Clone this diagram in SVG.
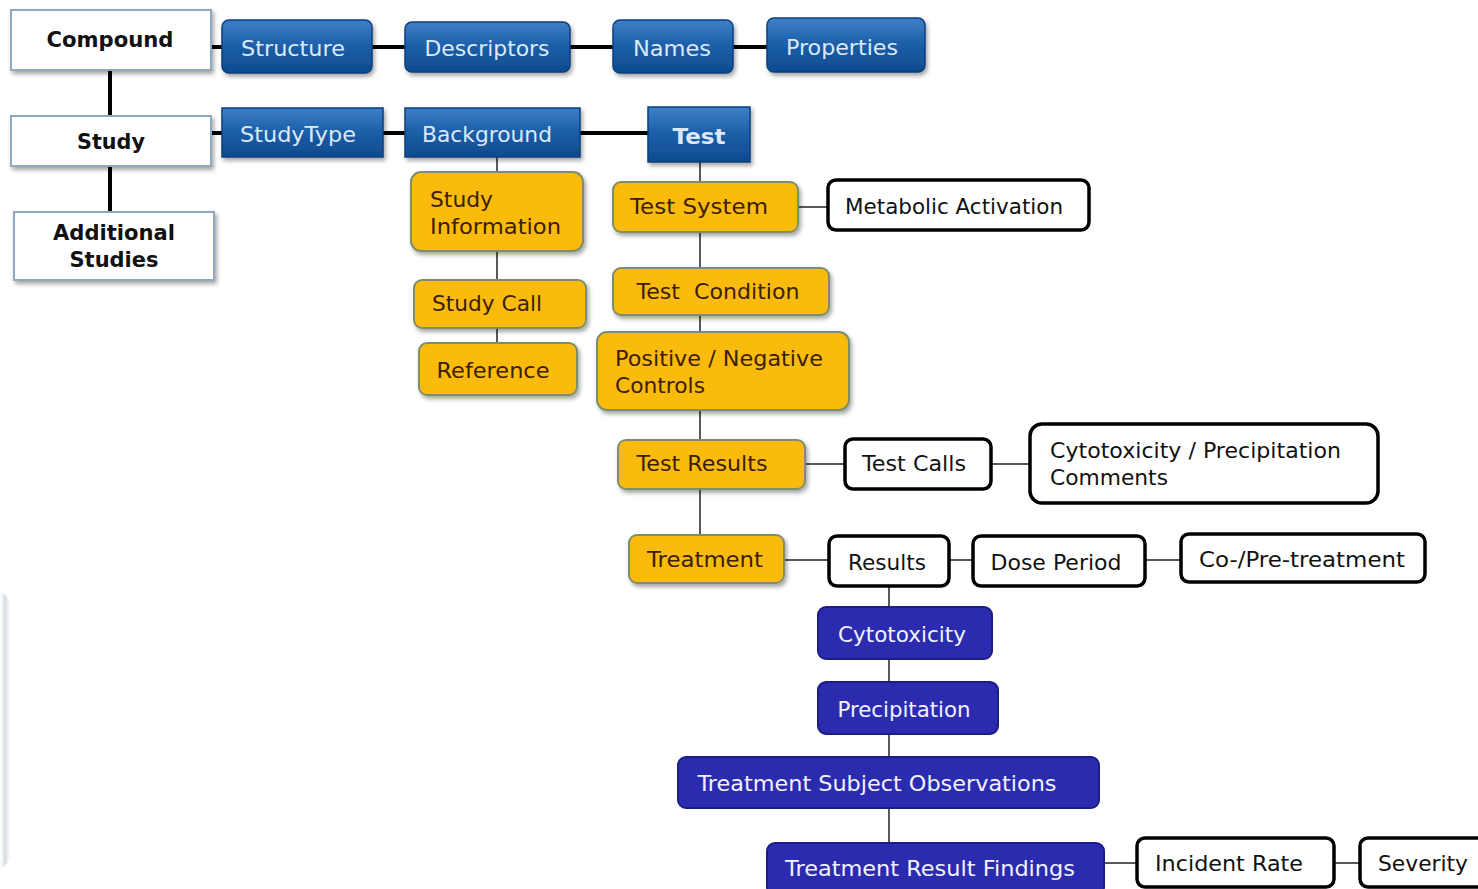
<svg xmlns="http://www.w3.org/2000/svg" width="1478" height="889" viewBox="0 0 1478 889">
<defs>
<linearGradient id="gBlue" x1="0" y1="0" x2="0" y2="1">
<stop offset="0" stop-color="#3d80c8"/>
<stop offset="0.5" stop-color="#1b5ea8"/>
<stop offset="1" stop-color="#0e4b8f"/>
</linearGradient>
<linearGradient id="gEdge" x1="0" y1="0" x2="1" y2="0">
<stop offset="0" stop-color="#e9edf3" stop-opacity="0"/>
<stop offset="0.5" stop-color="#c9d0dc"/>
<stop offset="1" stop-color="#e9edf3" stop-opacity="0.3"/>
</linearGradient>
<filter id="sh" x="-10%" y="-20%" width="130%" height="150%">
<feDropShadow dx="2" dy="3" stdDeviation="2" flood-color="#000" flood-opacity="0.35"/>
</filter>
</defs>
<style>
text{font-family:"DejaVu Sans","Verdana",sans-serif;font-size:21px;text-anchor:middle}
.w{fill:#fff;stroke:#8fa9c4;stroke-width:2}
.wt{fill:#111;font-weight:bold}
.b{fill:url(#gBlue);stroke:#0c3f7a;stroke-width:1.5}
.bt{fill:#dce9f8}
.y{fill:#fbbb0c;stroke:#7d8e6c;stroke-width:2}
.yt{fill:#3b2000}
.k{fill:#fff;stroke:#000;stroke-width:3.5}
.kt{fill:#111}
.p{fill:#2b2bb0;stroke:#1c1c86;stroke-width:2}
.pt{fill:#f2f2ff}
.l{text-anchor:start}
.thick{stroke:#000;stroke-width:4;fill:none}
.thin{stroke:#222;stroke-width:1.5;fill:none}
</style>
<rect width="1478" height="889" fill="#fff"/>
<path d="M0 590 L10 600 L10 860 L0 870 Z" fill="url(#gEdge)" opacity="0.8"/>

<g id="connectors">
<line class="thick" x1="110" y1="70" x2="110" y2="116"/>
<line class="thick" x1="110" y1="166" x2="110" y2="212"/>
<line class="thick" x1="211" y1="47" x2="222" y2="47"/>
<line class="thick" x1="372" y1="47" x2="405" y2="47"/>
<line class="thick" x1="570" y1="47" x2="613" y2="47"/>
<line class="thick" x1="733" y1="47" x2="767" y2="47"/>
<line class="thick" x1="211" y1="133" x2="222" y2="133"/>
<line class="thick" x1="383" y1="133" x2="405" y2="133"/>
<line class="thick" x1="580" y1="133" x2="648" y2="133"/>
<line class="thin" x1="497" y1="157" x2="497" y2="172"/>
<line class="thin" x1="497" y1="251" x2="497" y2="280"/>
<line class="thin" x1="497" y1="328" x2="497" y2="343"/>
<line class="thin" x1="700" y1="162" x2="700" y2="182"/>
<line class="thin" x1="700" y1="232" x2="700" y2="268"/>
<line class="thin" x1="700" y1="315" x2="700" y2="332"/>
<line class="thin" x1="700" y1="410" x2="700" y2="440"/>
<line class="thin" x1="700" y1="489" x2="700" y2="535"/>
<line class="thin" x1="798" y1="207" x2="828" y2="207"/>
<line class="thin" x1="805" y1="464" x2="845" y2="464"/>
<line class="thin" x1="991" y1="464" x2="1030" y2="464"/>
<line class="thin" x1="784" y1="560" x2="829" y2="560"/>
<line class="thin" x1="949" y1="560" x2="973" y2="560"/>
<line class="thin" x1="1145" y1="560" x2="1181" y2="560"/>
<line class="thin" x1="889" y1="586" x2="889" y2="608"/>
<line class="thin" x1="889" y1="659" x2="889" y2="683"/>
<line class="thin" x1="889" y1="734" x2="889" y2="757"/>
<line class="thin" x1="889" y1="808" x2="889" y2="843"/>
<line class="thin" x1="1104" y1="863" x2="1137" y2="863"/>
<line class="thin" x1="1334" y1="863" x2="1360" y2="863"/>
</g>

<g id="compound"><rect class="w" x="11" y="10" width="200" height="60" filter="url(#sh)"/><text class="wt" x="110" y="47" textLength="127" lengthAdjust="spacingAndGlyphs">Compound</text></g>
<g id="study"><rect class="w" x="11" y="116" width="200" height="50" filter="url(#sh)"/><text class="wt" x="111" y="149" textLength="68" lengthAdjust="spacingAndGlyphs">Study</text></g>
<g id="additional"><rect class="w" x="14" y="212" width="200" height="68" filter="url(#sh)"/><text class="wt" x="114" y="240" textLength="122" lengthAdjust="spacingAndGlyphs">Additional</text><text class="wt" x="114" y="267" textLength="89" lengthAdjust="spacingAndGlyphs">Studies</text></g>

<g id="structure"><rect class="b" x="222" y="20" width="150" height="53" rx="7" filter="url(#sh)"/><text class="bt" x="293" y="56" textLength="104" lengthAdjust="spacingAndGlyphs">Structure</text></g>
<g id="descriptors"><rect class="b" x="405" y="22" width="165" height="50" rx="7" filter="url(#sh)"/><text class="bt" x="487" y="56" textLength="125" lengthAdjust="spacingAndGlyphs">Descriptors</text></g>
<g id="names"><rect class="b" x="613" y="20" width="120" height="53" rx="7" filter="url(#sh)"/><text class="bt" x="672" y="56" textLength="78" lengthAdjust="spacingAndGlyphs">Names</text></g>
<g id="properties"><rect class="b" x="767" y="18" width="158" height="54" rx="7" filter="url(#sh)"/><text class="bt" x="842" y="55" textLength="112" lengthAdjust="spacingAndGlyphs">Properties</text></g>

<g id="studytype"><rect class="b" x="222" y="108" width="161" height="49" filter="url(#sh)"/><text class="bt" x="298" y="142" textLength="116" lengthAdjust="spacingAndGlyphs">StudyType</text></g>
<g id="background"><rect class="b" x="405" y="108" width="175" height="49" filter="url(#sh)"/><text class="bt" x="487" y="142" textLength="130" lengthAdjust="spacingAndGlyphs">Background</text></g>
<g id="test"><rect class="b" x="648" y="107" width="102" height="55" filter="url(#sh)"/><text class="bt" x="699" y="144" font-weight="bold" textLength="53" lengthAdjust="spacingAndGlyphs">Test</text></g>

<g id="study-information"><rect class="y" x="411" y="172" width="172" height="79" rx="10" filter="url(#sh)"/><text class="yt l" x="430" y="207" textLength="63" lengthAdjust="spacingAndGlyphs">Study</text><text class="yt l" x="430" y="234" textLength="131" lengthAdjust="spacingAndGlyphs">Information</text></g>
<g id="study-call"><rect class="y" x="414" y="280" width="172" height="48" rx="8" filter="url(#sh)"/><text class="yt" x="487" y="311" textLength="110" lengthAdjust="spacingAndGlyphs">Study Call</text></g>
<g id="reference"><rect class="y" x="419" y="343" width="158" height="52" rx="8" filter="url(#sh)"/><text class="yt" x="493" y="378" textLength="113" lengthAdjust="spacingAndGlyphs">Reference</text></g>

<g id="test-system"><rect class="y" x="613" y="182" width="185" height="50" rx="8" filter="url(#sh)"/><text class="yt" x="699" y="214" textLength="138" lengthAdjust="spacingAndGlyphs">Test System</text></g>
<g id="metabolic"><rect class="k" x="828" y="180" width="261" height="50" rx="8"/><text class="kt" x="954" y="214" textLength="218" lengthAdjust="spacingAndGlyphs">Metabolic Activation</text></g>
<g id="test-condition"><rect class="y" x="613" y="268" width="216" height="47" rx="8" filter="url(#sh)"/><text class="yt" x="718" y="299" textLength="163" lengthAdjust="spacingAndGlyphs" xml:space="preserve">Test  Condition</text></g>
<g id="controls"><rect class="y" x="597" y="332" width="252" height="78" rx="10" filter="url(#sh)"/><text class="yt l" x="615" y="366" textLength="208" lengthAdjust="spacingAndGlyphs">Positive / Negative</text><text class="yt l" x="615" y="393" textLength="90" lengthAdjust="spacingAndGlyphs">Controls</text></g>
<g id="test-results"><rect class="y" x="618" y="440" width="187" height="49" rx="8" filter="url(#sh)"/><text class="yt" x="702" y="471" textLength="131" lengthAdjust="spacingAndGlyphs">Test Results</text></g>
<g id="test-calls"><rect class="k" x="845" y="439" width="146" height="50" rx="8"/><text class="kt" x="914" y="471" textLength="104" lengthAdjust="spacingAndGlyphs">Test Calls</text></g>
<g id="cyto-comments"><rect class="k" x="1030" y="424" width="348" height="79" rx="12"/><text class="kt l" x="1050" y="458" textLength="291" lengthAdjust="spacingAndGlyphs">Cytotoxicity / Precipitation</text><text class="kt l" x="1050" y="485" textLength="118" lengthAdjust="spacingAndGlyphs">Comments</text></g>
<g id="treatment"><rect class="y" x="629" y="535" width="155" height="48" rx="8" filter="url(#sh)"/><text class="yt" x="705" y="567" textLength="116" lengthAdjust="spacingAndGlyphs">Treatment</text></g>
<g id="results"><rect class="k" x="829" y="536" width="120" height="50" rx="8"/><text class="kt" x="887" y="570" textLength="78" lengthAdjust="spacingAndGlyphs">Results</text></g>
<g id="dose-period"><rect class="k" x="973" y="536" width="172" height="50" rx="8"/><text class="kt" x="1056" y="570" textLength="131" lengthAdjust="spacingAndGlyphs">Dose Period</text></g>
<g id="co-pre"><rect class="k" x="1181" y="534" width="244" height="48" rx="8"/><text class="kt" x="1302" y="567" textLength="206" lengthAdjust="spacingAndGlyphs">Co-/Pre-treatment</text></g>

<g id="cytotoxicity"><rect class="p" x="818" y="607" width="174" height="52" rx="8"/><text class="pt" x="902" y="642" textLength="128" lengthAdjust="spacingAndGlyphs">Cytotoxicity</text></g>
<g id="precipitation"><rect class="p" x="818" y="682" width="180" height="52" rx="8"/><text class="pt" x="904" y="717" textLength="133" lengthAdjust="spacingAndGlyphs">Precipitation</text></g>
<g id="tso"><rect class="p" x="678" y="757" width="421" height="51" rx="8"/><text class="pt" x="877" y="791" textLength="359" lengthAdjust="spacingAndGlyphs">Treatment Subject Observations</text></g>
<g id="trf"><rect class="p" x="767" y="843" width="337" height="52" rx="8"/><text class="pt" x="930" y="876" textLength="290" lengthAdjust="spacingAndGlyphs">Treatment Result Findings</text></g>
<g id="incident-rate"><rect class="k" x="1137" y="838" width="197" height="49" rx="8"/><text class="kt" x="1229" y="871" textLength="148" lengthAdjust="spacingAndGlyphs">Incident Rate</text></g>
<g id="severity"><rect class="k" x="1360" y="838" width="130" height="49" rx="8"/><text class="kt" x="1423" y="871" textLength="90" lengthAdjust="spacingAndGlyphs">Severity</text></g>
</svg>
